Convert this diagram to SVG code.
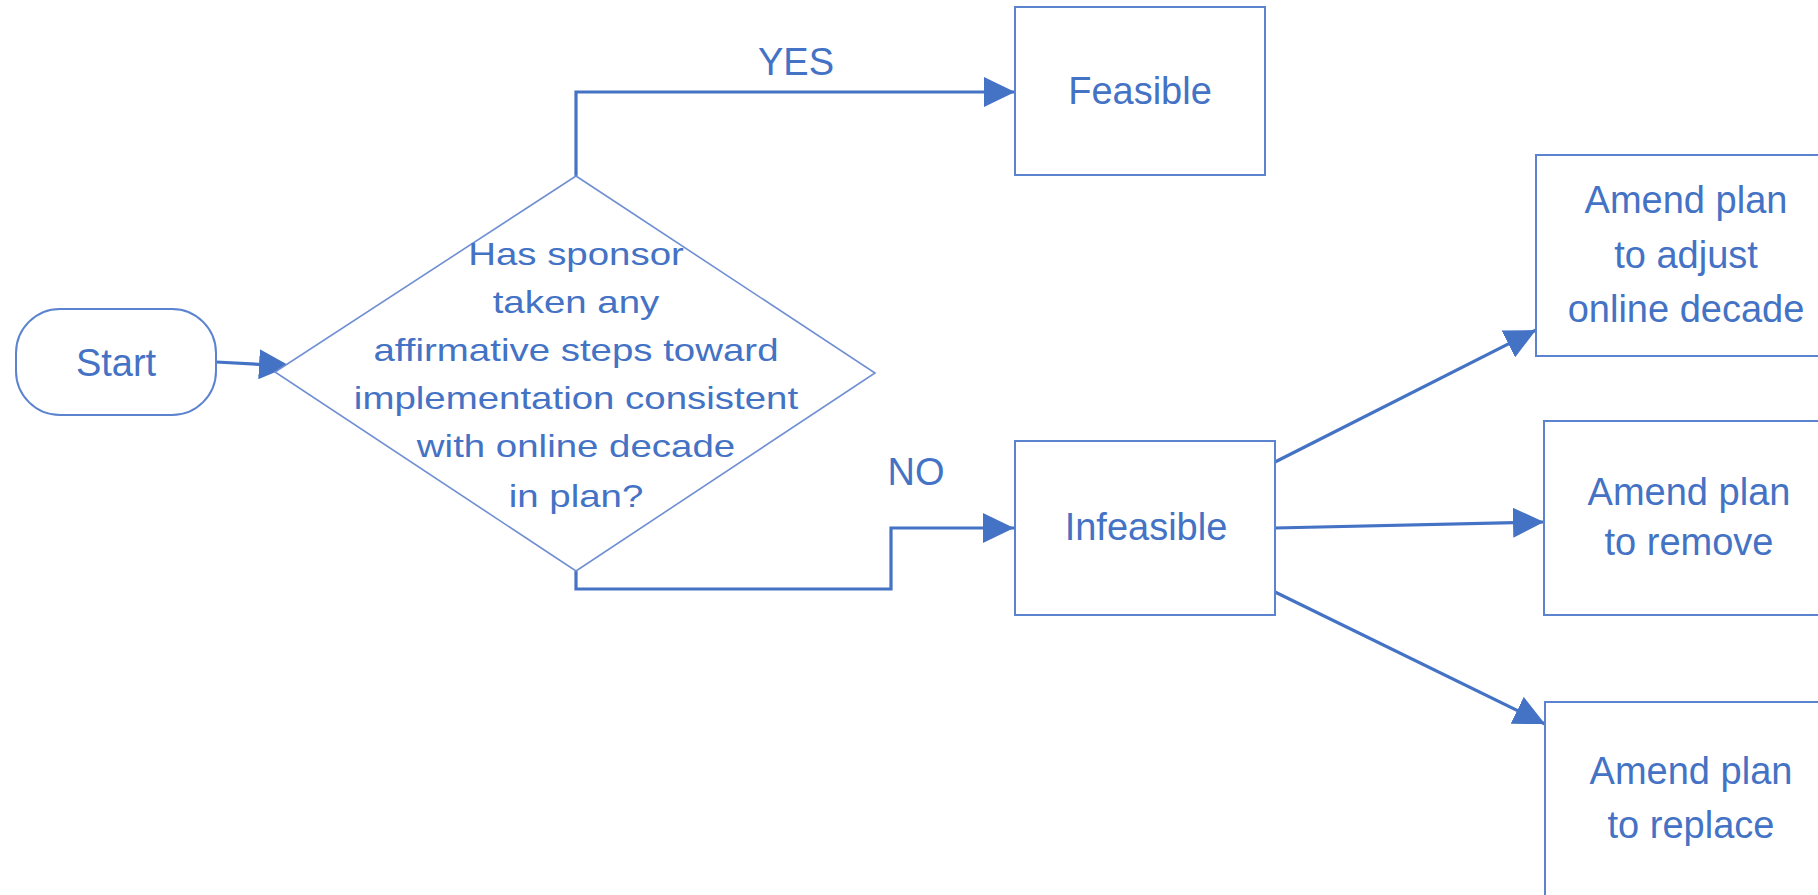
<svg xmlns="http://www.w3.org/2000/svg" width="1818" height="895" viewBox="0 0 1818 895">
  <style>
    .node { fill: #ffffff; stroke: #5b83cf; stroke-width: 2; }
    .dia { fill: #ffffff; stroke: #6f8fd2; stroke-width: 1.6; }
    .conn { fill: none; stroke: #4472c4; stroke-width: 3.2; }
    .lbl { font-family: "Liberation Sans", Arial, sans-serif; font-size: 38px; fill: #4472c4; text-anchor: middle; }
    .dtxt { font-family: "Liberation Sans", Arial, sans-serif; font-size: 31px; fill: #4472c4; text-anchor: middle; }
  </style>
  <defs>
    <marker id="arrow" markerUnits="userSpaceOnUse" markerWidth="31" markerHeight="30" refX="31" refY="15" orient="auto">
      <path d="M0,0 L31,15 L0,30 Z" fill="#4472c4"/>
    </marker>
  </defs>
  <rect width="1818" height="895" fill="#ffffff"/>

  <g id="connectors">
    <path class="conn" d="M216,362 L290,366" marker-end="url(#arrow)"/>
    <path class="conn" d="M576,176 L576,92 L1015,92" marker-end="url(#arrow)"/>
    <path class="conn" d="M576,571 L576,589 L891,589 L891,528 L1014,528" marker-end="url(#arrow)"/>
    <path class="conn" d="M1275,462 L1536,330" marker-end="url(#arrow)"/>
    <path class="conn" d="M1275,528 L1544,522" marker-end="url(#arrow)"/>
    <path class="conn" d="M1275,592 L1545,724" marker-end="url(#arrow)"/>
    <text class="lbl" x="796" y="75">YES</text>
    <text class="lbl" x="916" y="485">NO</text>
  </g>

  <g id="start">
    <rect class="node" x="16" y="309" width="200" height="106" rx="44" ry="44"/>
    <text class="lbl" x="116" y="376">Start</text>
  </g>

  <g id="decision">
    <polygon class="dia" points="576,176 875,373 576,571 275,372"/>
    <g transform="translate(576 0) scale(1.24 1)">
      <text class="dtxt" x="0" y="265">Has sponsor</text>
      <text class="dtxt" x="0" y="313">taken any</text>
      <text class="dtxt" x="0" y="361">affirmative steps toward</text>
      <text class="dtxt" x="0" y="409">implementation consistent</text>
      <text class="dtxt" x="0" y="457">with online decade</text>
      <text class="dtxt" x="0" y="507">in plan?</text>
    </g>
  </g>

  <g id="feasible">
    <rect class="node" x="1015" y="7" width="250" height="168"/>
    <text class="lbl" x="1140" y="104">Feasible</text>
  </g>

  <g id="infeasible">
    <rect class="node" x="1015" y="441" width="260" height="174"/>
    <text class="lbl" x="1146" y="540">Infeasible</text>
  </g>

  <g id="amend-adjust">
    <rect class="node" x="1536" y="155" width="300" height="201"/>
    <text class="lbl" x="1686" y="213">Amend plan</text>
    <text class="lbl" x="1686" y="268">to adjust</text>
    <text class="lbl" x="1686" y="322">online decade</text>
  </g>

  <g id="amend-remove">
    <rect class="node" x="1544" y="421" width="300" height="194"/>
    <text class="lbl" x="1689" y="505">Amend plan</text>
    <text class="lbl" x="1689" y="555">to remove</text>
  </g>

  <g id="amend-replace">
    <rect class="node" x="1545" y="702" width="300" height="220"/>
    <text class="lbl" x="1691" y="784">Amend plan</text>
    <text class="lbl" x="1691" y="838">to replace</text>
  </g>
</svg>
